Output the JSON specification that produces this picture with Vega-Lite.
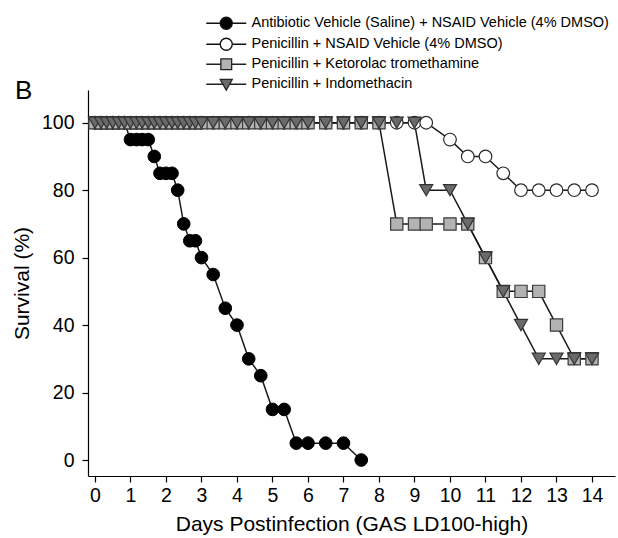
{
  "$schema": "https://vega.github.io/schema/vega-lite/v6.json",
  "autosize": "none",
  "width": 527,
  "height": 386,
  "padding": {"left": 88, "top": 90, "right": 3, "bottom": 62},
  "background": "white",
  "title": {"text": "B", "anchor": "start", "frame": "group", "fontSize": 26, "fontWeight": "normal", "font": "Liberation Sans", "color": "#000", "dx": -73, "dy": 88, "offset": 0},
  "data": {"values": [
    {"g":"A","d":0,"v":100},{"g":"A","d":0.17,"v":100},{"g":"A","d":0.33,"v":100},{"g":"A","d":0.5,"v":100},{"g":"A","d":0.67,"v":100},{"g":"A","d":0.83,"v":100},
    {"g":"A","d":1,"v":95},{"g":"A","d":1.17,"v":95},{"g":"A","d":1.33,"v":95},{"g":"A","d":1.5,"v":95},{"g":"A","d":1.67,"v":90},
    {"g":"A","d":1.83,"v":85},{"g":"A","d":2,"v":85},{"g":"A","d":2.17,"v":85},{"g":"A","d":2.33,"v":80},{"g":"A","d":2.5,"v":70},
    {"g":"A","d":2.67,"v":65},{"g":"A","d":2.83,"v":65},{"g":"A","d":3,"v":60},{"g":"A","d":3.33,"v":55},{"g":"A","d":3.67,"v":45},
    {"g":"A","d":4,"v":40},{"g":"A","d":4.33,"v":30},{"g":"A","d":4.67,"v":25},{"g":"A","d":5,"v":15},{"g":"A","d":5.33,"v":15},
    {"g":"A","d":5.67,"v":5},{"g":"A","d":6,"v":5},{"g":"A","d":6.5,"v":5},{"g":"A","d":7,"v":5},{"g":"A","d":7.5,"v":0},

    {"g":"B","d":0,"v":100},{"g":"B","d":0.17,"v":100},{"g":"B","d":0.33,"v":100},{"g":"B","d":0.5,"v":100},{"g":"B","d":0.67,"v":100},{"g":"B","d":0.83,"v":100},
    {"g":"B","d":1,"v":100},{"g":"B","d":1.17,"v":100},{"g":"B","d":1.33,"v":100},{"g":"B","d":1.5,"v":100},{"g":"B","d":1.67,"v":100},{"g":"B","d":1.83,"v":100},
    {"g":"B","d":2,"v":100},{"g":"B","d":2.17,"v":100},{"g":"B","d":2.33,"v":100},{"g":"B","d":2.5,"v":100},{"g":"B","d":2.67,"v":100},{"g":"B","d":2.83,"v":100},
    {"g":"B","d":3,"v":100},{"g":"B","d":3.33,"v":100},{"g":"B","d":3.67,"v":100},{"g":"B","d":4,"v":100},{"g":"B","d":4.33,"v":100},{"g":"B","d":4.67,"v":100},
    {"g":"B","d":5,"v":100},{"g":"B","d":5.33,"v":100},{"g":"B","d":5.67,"v":100},{"g":"B","d":6,"v":100},{"g":"B","d":6.5,"v":100},{"g":"B","d":7,"v":100},
    {"g":"B","d":7.5,"v":100},{"g":"B","d":8,"v":100},{"g":"B","d":8.5,"v":100},{"g":"B","d":9,"v":100},{"g":"B","d":9.33,"v":100},
    {"g":"B","d":10,"v":95},{"g":"B","d":10.5,"v":90},{"g":"B","d":11,"v":90},{"g":"B","d":11.5,"v":85},{"g":"B","d":12,"v":80},
    {"g":"B","d":12.5,"v":80},{"g":"B","d":13,"v":80},{"g":"B","d":13.5,"v":80},{"g":"B","d":14,"v":80},

    {"g":"C","d":0,"v":100},{"g":"C","d":0.17,"v":100},{"g":"C","d":0.33,"v":100},{"g":"C","d":0.5,"v":100},{"g":"C","d":0.67,"v":100},{"g":"C","d":0.83,"v":100},
    {"g":"C","d":1,"v":100},{"g":"C","d":1.17,"v":100},{"g":"C","d":1.33,"v":100},{"g":"C","d":1.5,"v":100},{"g":"C","d":1.67,"v":100},{"g":"C","d":1.83,"v":100},
    {"g":"C","d":2,"v":100},{"g":"C","d":2.17,"v":100},{"g":"C","d":2.33,"v":100},{"g":"C","d":2.5,"v":100},{"g":"C","d":2.67,"v":100},{"g":"C","d":2.83,"v":100},
    {"g":"C","d":3,"v":100},{"g":"C","d":3.33,"v":100},{"g":"C","d":3.67,"v":100},{"g":"C","d":4,"v":100},{"g":"C","d":4.33,"v":100},{"g":"C","d":4.67,"v":100},
    {"g":"C","d":5,"v":100},{"g":"C","d":5.33,"v":100},{"g":"C","d":5.67,"v":100},{"g":"C","d":6,"v":100},{"g":"C","d":6.5,"v":100},{"g":"C","d":7,"v":100},
    {"g":"C","d":7.5,"v":100},{"g":"C","d":8,"v":100},{"g":"C","d":8.5,"v":70},{"g":"C","d":9,"v":70},{"g":"C","d":9.33,"v":70},
    {"g":"C","d":10,"v":70},{"g":"C","d":10.5,"v":70},{"g":"C","d":11,"v":60},{"g":"C","d":11.5,"v":50},{"g":"C","d":12,"v":50},
    {"g":"C","d":12.5,"v":50},{"g":"C","d":13,"v":40},{"g":"C","d":13.5,"v":30},{"g":"C","d":14,"v":30},

    {"g":"D","d":0,"v":100},{"g":"D","d":0.17,"v":100},{"g":"D","d":0.33,"v":100},{"g":"D","d":0.5,"v":100},{"g":"D","d":0.67,"v":100},{"g":"D","d":0.83,"v":100},
    {"g":"D","d":1,"v":100},{"g":"D","d":1.17,"v":100},{"g":"D","d":1.33,"v":100},{"g":"D","d":1.5,"v":100},{"g":"D","d":1.67,"v":100},{"g":"D","d":1.83,"v":100},
    {"g":"D","d":2,"v":100},{"g":"D","d":2.17,"v":100},{"g":"D","d":2.33,"v":100},{"g":"D","d":2.5,"v":100},{"g":"D","d":2.67,"v":100},{"g":"D","d":2.83,"v":100},
    {"g":"D","d":3,"v":100},{"g":"D","d":3.33,"v":100},{"g":"D","d":3.67,"v":100},{"g":"D","d":4,"v":100},{"g":"D","d":4.33,"v":100},{"g":"D","d":4.67,"v":100},
    {"g":"D","d":5,"v":100},{"g":"D","d":5.33,"v":100},{"g":"D","d":5.67,"v":100},{"g":"D","d":6,"v":100},{"g":"D","d":6.5,"v":100},{"g":"D","d":7,"v":100},
    {"g":"D","d":7.5,"v":100},{"g":"D","d":8,"v":100},{"g":"D","d":8.5,"v":100},{"g":"D","d":9,"v":100},{"g":"D","d":9.33,"v":80},
    {"g":"D","d":10,"v":80},{"g":"D","d":10.5,"v":70},{"g":"D","d":11,"v":60},{"g":"D","d":11.5,"v":50},{"g":"D","d":12,"v":40},
    {"g":"D","d":12.5,"v":30},{"g":"D","d":13,"v":30},{"g":"D","d":13.5,"v":30},{"g":"D","d":14,"v":30}
  ]},
  "encoding": {
    "x": {"field": "d", "type": "quantitative", "title": "Days Postinfection (GAS LD100-high)",
      "scale": {"domain": [-0.197, 14.648], "nice": false, "zero": false},
      "axis": {"values": [0,1,2,3,4,5,6,7,8,9,10,11,12,13,14], "labelPadding": 4, "titlePadding": 9, "labelFlush": false}},
    "y": {"field": "v", "type": "quantitative", "title": "Survival (%)",
      "scale": {"domain": [-4.74, 109.7], "nice": false, "zero": false},
      "axis": {"values": [0,20,40,60,80,100], "labelPadding": 8, "titlePadding": 9, "labelFlush": false}}
  },
  "layer": [
    {"mark": {"type": "line", "color": "#1a1a1a", "strokeWidth": 1.5}, "encoding": {"detail": {"field": "g"}}},
    {"transform": [{"filter": "datum.g === 'A'"}], "mark": {"type": "point", "shape": "circle", "filled": true, "fill": "#000000", "stroke": "#000000", "strokeWidth": 1, "size": 160, "opacity": 1}},
    {"transform": [{"filter": "datum.g === 'B'"}], "mark": {"type": "point", "shape": "circle", "filled": true, "fill": "#ffffff", "stroke": "#2a2a2a", "strokeWidth": 1.2, "size": 160, "opacity": 1}},
    {"transform": [{"filter": "datum.g === 'C'"}], "mark": {"type": "point", "shape": "square", "filled": true, "fill": "#b3b3b3", "stroke": "#3a3a3a", "strokeWidth": 1.2, "size": 150, "opacity": 1}},
    {"transform": [{"filter": "datum.g === 'D'"}], "mark": {"type": "point", "shape": "triangle-down", "filled": true, "fill": "#6a6a6a", "stroke": "#333333", "strokeWidth": 1.2, "size": 170, "opacity": 1}},
    {"transform": [{"filter": "false"}],
     "mark": {"type": "point", "filled": true, "strokeWidth": 1.3, "size": 144, "opacity": 1},
     "encoding": {
       "shape": {"field": "series", "type": "nominal", "title": null,
         "scale": {"domain": ["Antibiotic Vehicle (Saline) + NSAID Vehicle (4% DMSO)", "Penicillin + NSAID Vehicle (4% DMSO)", "Penicillin + Ketorolac tromethamine", "Penicillin + Indomethacin"],
           "range": ["M-3.33,0H-1M1,0H3.33M-1,0A1,1,0,1,0,1,0A1,1,0,1,0,-1,0Z", "M-3.33,0H-1M1,0H3.33M-1,0A1,1,0,1,0,1,0A1,1,0,1,0,-1,0Z", "M-3.33,0H-0.9M0.9,0H3.33M-0.9,-0.9H0.9V0.9H-0.9Z", "M-3.33,0H-0.55M0.55,0H3.33M-1,-0.8H1L0,1Z"]}},
       "fill": {"field": "series", "type": "nominal", "title": null,
         "scale": {"domain": ["Antibiotic Vehicle (Saline) + NSAID Vehicle (4% DMSO)", "Penicillin + NSAID Vehicle (4% DMSO)", "Penicillin + Ketorolac tromethamine", "Penicillin + Indomethacin"],
           "range": ["#000000", "#ffffff", "#b3b3b3", "#6a6a6a"]}},
       "stroke": {"field": "series", "type": "nominal", "title": null,
         "scale": {"domain": ["Antibiotic Vehicle (Saline) + NSAID Vehicle (4% DMSO)", "Penicillin + NSAID Vehicle (4% DMSO)", "Penicillin + Ketorolac tromethamine", "Penicillin + Indomethacin"],
           "range": ["#111111", "#111111", "#222222", "#222222"]}}
     }}
  ],
  "config": {
    "view": {"stroke": null},
    "font": "Liberation Sans",
    "axis": {"grid": false, "domainColor": "#000", "domainWidth": 1.2, "tickColor": "#000", "tickWidth": 1.2, "tickSize": 6,
      "labelColor": "#000", "labelFont": "Liberation Sans", "labelFontSize": 19.5,
      "titleColor": "#000", "titleFont": "Liberation Sans", "titleFontSize": 21, "titleFontWeight": "normal"},
    "legend": {"orient": "none", "legendX": 131, "legendY": -74, "labelFont": "Liberation Sans", "labelFontSize": 14.5, "labelColor": "#000",
      "labelOffset": 18, "rowPadding": 3, "symbolSize": 144, "symbolStrokeWidth": 1.3, "labelLimit": 500}
  }
}
